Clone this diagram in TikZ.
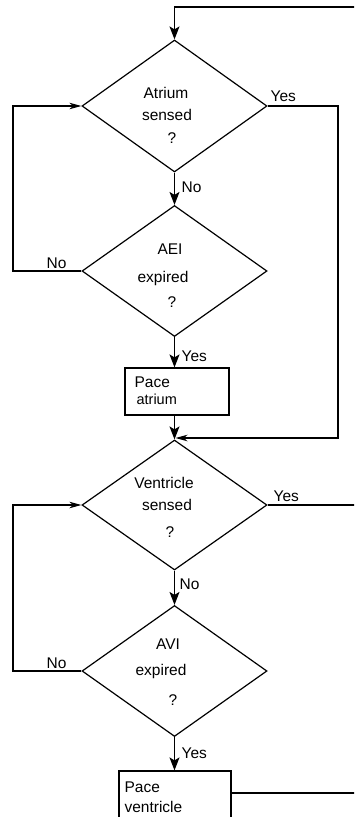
\documentclass[tikz,border=0pt]{standalone}
\usepackage{fontspec}
\setmainfont{Liberation Sans}
\usetikzlibrary{arrows.meta,shapes.geometric}
\begin{document}
\begin{tikzpicture}[x=1pt,y=-1pt,line width=1.2pt,
  dec/.style={diamond,draw,inner sep=0pt,minimum width=185pt,minimum height=132pt},
  txt/.style={font=\fontsize{15.5}{18}\selectfont,inner sep=0pt},
  stxt/.style={font=\fontsize{14.5}{17}\selectfont,inner sep=0pt},
  box/.style={draw,inner sep=0pt},
  down/.style={-{Stealth[length=13pt,width=10pt,inset=3pt]}},
  side/.style={-{Stealth[length=12pt,width=6.5pt,inset=3.5pt]}}]
\useasboundingbox (0,0) rectangle (354,817);
\clip (0,0) rectangle (354,817);
% decisions
\node[dec] (d1) at (174.5,106) {};
\node[dec,minimum height=131pt] (d2) at (174.5,271) {};
\node[dec,minimum height=130pt] (d3) at (174.5,505) {};
\node[dec,minimum height=131pt] (d4) at (174.5,671) {};
% boxes
\node[box,minimum width=104pt,minimum height=47pt] (b1) at (177,391.5) {};
\node[box,minimum width=112pt,minimum height=70pt] (b2) at (175,806) {};
% texts in diamonds
\node[txt] (t1a) at (166,93) {Atrium};
\node[txt] (t1b) at (167,115) {sensed};
\node[txt] (t1c) at (172,138) {?};
\node[txt] (t2a) at (170,249) {AEI};
\node[txt] (t2b) at (163,278) {expired};
\node[txt] (t2c) at (172,302) {?};
\node[txt] (t3a) at (164,483) {Ventricle};
\node[txt] (t3b) at (167,505) {sensed};
\node[txt] (t3c) at (170,532) {?};
\node[txt] (t4a) at (168,644) {AVI};
\node[txt] (t4b) at (161,671) {expired};
\node[txt] (t4c) at (173,700) {?};
% texts in boxes
\node[txt,anchor=west] (p1a) at (134,382) {Pace};
\node[stxt,anchor=west] (p1b) at (136,399) {atrium};
\node[txt,anchor=west] (p2a) at (124,787) {Pace};
\node[txt,anchor=west] (p2b) at (124,807) {ventricle};
% coordinates
\coordinate (topR) at (360,7);
\coordinate (rc) at (338,438);
\coordinate (join) at (175.5,438);
\coordinate (l1) at (13,271);
\coordinate (l3) at (13,671);
\coordinate (r3) at (360,505);
\coordinate (r4) at (360,793);
% connectors
\draw[down] (topR) -| (d1.north);
\draw[down] (d1.south) -- (d2.north);
\draw[down] (d2.south) -- (d2.south |- b1.north);
\draw[down] (b1.south -| d3.north) -- (d3.north);
\draw[down] (d3.south) -- (d4.north);
\draw[down] (d4.south) -- (d4.south |- b2.north);
\draw[side] (d1.east) -| (rc) -- (join);
\draw[side] (d2.west) -- (l1) |- (d1.west);
\draw[side] (d4.west) -- (l3) |- (d3.west);
\draw (d3.east) -- (r3);
\draw (b2.east |- r4) -- (r4);
% labels
\node[txt,anchor=west] (y1) at (270,96) {Yes};
\node[txt,anchor=west] (n1) at (181,187) {No};
\node[txt,anchor=west] (n2) at (46,263) {No};
\node[txt,anchor=west] (y2) at (181,356) {Yes};
\node[txt,anchor=west] (y3) at (273,496) {Yes};
\node[txt,anchor=west] (n3) at (179,584) {No};
\node[txt,anchor=west] (n4) at (46,663) {No};
\node[txt,anchor=west] (y4) at (181,753) {Yes};
\end{tikzpicture}
\end{document}
